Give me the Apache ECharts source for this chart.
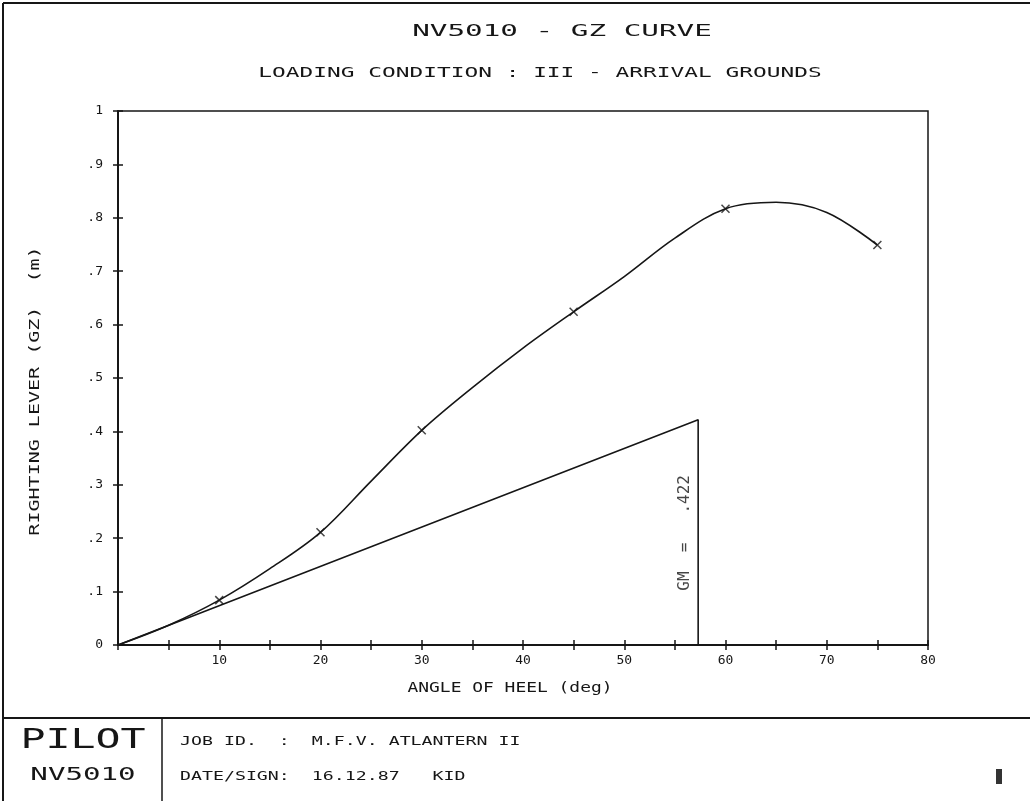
<!DOCTYPE html>
<html>
<head>
<meta charset="utf-8">
<title>NV5010 - GZ CURVE</title>
<script src="https://cdn.jsdelivr.net/npm/echarts@6/dist/echarts.min.js"></script>
<style>
  html, body { margin: 0; padding: 0; background: #fff; }
  #main { width: 1030px; height: 801px; }
</style>
</head>
<body>
<div id="main"></div>
<script>
// GZ curve (angle of heel in deg, righting lever in m)
const angles = [0, 5, 10, 15, 20, 25, 30, 35, 40, 45, 50, 55, 60, 65, 70, 75];
const gz = [0, 0.037, 0.084, 0.143, 0.211, 0.307, 0.402, 0.482, 0.556, 0.624, 0.69, 0.762, 0.817, 0.829, 0.81, 0.749];

// computed points marked with a cross
const markAngles = [10, 20, 30, 45, 60, 75];
const markGz = [0.084, 0.211, 0.402, 0.624, 0.817, 0.749];

// initial GM tangent : reaches GM at 1 rad (57.3 deg)
const gmAngle = 57.3;
const gmValue = 0.422;
const gmText = 'GM  =   .422';

// tick labels
const xTickLabels = ['10', '20', '30', '40', '50', '60', '70', '80'];
const yTickLabels = ['0', '.1', '.2', '.3', '.4', '.5', '.6', '.7', '.8', '.9', '1'];

const titleText = 'NV5010 - GZ CURVE';
const subTitleText = 'LOADING CONDITION : III - ARRIVAL GROUNDS';
const xName = 'ANGLE OF HEEL (deg)';
const yName = 'RIGHTING LEVER (GZ)  (m)';
const jobLine = 'JOB ID.  :  M.F.V. ATLANTERN II';
const dateLine = 'DATE/SIGN:  16.12.87   KID';

const ink = '#161616';
const mono = '"DejaVu Sans Mono", "Liberation Mono", monospace';

var chart = echarts.init(document.getElementById('main'));

// stretched plotter-style text
function txt(text, x, y, size, sx, extra) {
  return Object.assign({
    type: 'text',
    x: x,
    y: y,
    scaleX: sx,
    silent: true,
    style: {
      text: text,
      font: size + 'px ' + mono,
      fill: ink,
      textAlign: 'center',
      textVerticalAlign: 'middle'
    }
  }, extra || {});
}

const crossSymbol = 'path://M0,0L10,10M10,0L0,10';

var option = {
  backgroundColor: '#fff',
  animation: false,
  grid: {
    left: 118,
    right: 102,
    top: 111,
    bottom: 156,
    show: true,
    borderColor: ink,
    borderWidth: 1.5,
    backgroundColor: 'transparent'
  },
  xAxis: [
    {
      type: 'value',
      min: 0,
      max: 80,
      interval: 5,
      axisLine: { onZero: false, lineStyle: { color: ink, width: 2 } },
      axisTick: { show: true, length: 5, lineStyle: { color: ink, width: 1.5 } },
      axisLabel: {
        color: ink,
        fontFamily: mono,
        fontSize: 13,
        margin: 9,
        formatter: function (v) {
          if (v % 10 !== 0 || v === 0) return '';
          return xTickLabels[v / 10 - 1];
        }
      },
      splitLine: { show: false }
    },
    {
      // inner half of the crossing ticks
      type: 'value',
      position: 'bottom',
      min: 0,
      max: 80,
      interval: 5,
      axisLine: { show: false },
      axisTick: { show: true, inside: true, length: 5, lineStyle: { color: ink, width: 1.5 } },
      axisLabel: { show: false },
      splitLine: { show: false }
    }
  ],
  yAxis: [
    {
      type: 'value',
      min: 0,
      max: 1,
      interval: 0.1,
      axisLine: { show: true, onZero: false, lineStyle: { color: ink, width: 2 } },
      axisTick: { show: true, length: 5, lineStyle: { color: ink, width: 1.5 } },
      axisLabel: {
        color: ink,
        fontFamily: mono,
        fontSize: 13,
        margin: 15,
        formatter: function (v) {
          return yTickLabels[Math.round(v * 10)];
        }
      },
      splitLine: { show: false }
    },
    {
      type: 'value',
      position: 'left',
      min: 0,
      max: 1,
      interval: 0.1,
      axisLine: { show: false },
      axisTick: { show: true, inside: true, length: 5, lineStyle: { color: ink, width: 1.5 } },
      axisLabel: { show: false },
      splitLine: { show: false }
    }
  ],
  graphic: [
    txt(titleText, 562, 32, 16, 1.83),
    txt(subTitleText, 540, 73, 14, 1.63),
    txt(xName, 510, 688, 14, 1.28),
    txt(yName, 35, 391, 14, 1.43, { rotation: Math.PI / 2 }),
    // frame of the plot sheet and title block
    { type: 'line', silent: true, shape: { x1: 3, y1: 3, x2: 1030, y2: 3 }, style: { stroke: ink, lineWidth: 2 } },
    { type: 'line', silent: true, shape: { x1: 3, y1: 3, x2: 3, y2: 801 }, style: { stroke: ink, lineWidth: 2 } },
    { type: 'line', silent: true, shape: { x1: 3, y1: 718, x2: 1030, y2: 718 }, style: { stroke: ink, lineWidth: 2 } },
    { type: 'line', silent: true, shape: { x1: 162, y1: 718, x2: 162, y2: 801 }, style: { stroke: ink, lineWidth: 1.5 } },
    txt('PILOT', 83, 741, 26, 1.6),
    txt('NV5010', 83, 775, 18, 1.62),
    txt(jobLine, 180, 742, 12, 1.52, { style: { text: jobLine, font: '12px ' + mono, fill: ink, textAlign: 'left', textVerticalAlign: 'middle' } }),
    txt(dateLine, 180, 777, 12, 1.52, { style: { text: dateLine, font: '12px ' + mono, fill: ink, textAlign: 'left', textVerticalAlign: 'middle' } }),
    { type: 'rect', silent: true, shape: { x: 996, y: 769, width: 6, height: 15 }, style: { fill: '#333' } }
  ],
  series: [
    {
      name: 'GZ',
      type: 'line',
      smooth: 0.35,
      showSymbol: false,
      data: angles.map(function (a, i) { return [a, gz[i]]; }),
      lineStyle: { color: ink, width: 1.6 }
    },
    {
      name: 'points',
      type: 'scatter',
      symbol: crossSymbol,
      symbolSize: 8,
      data: markAngles.map(function (a, i) { return [a, markGz[i]]; }),
      itemStyle: { color: 'transparent', borderColor: ink, borderWidth: 1.5 }
    },
    {
      name: 'GM',
      type: 'line',
      showSymbol: false,
      data: [[0, 0], [gmAngle, gmValue], [gmAngle, 0]],
      lineStyle: { color: ink, width: 1.6 }
    },
    {
      name: 'GM label',
      type: 'scatter',
      symbolSize: 0,
      data: [[gmAngle, 0.21]],
      label: {
        show: true,
        position: 'left',
        distance: 5,
        rotate: 90,
        align: 'center',
        verticalAlign: 'bottom',
        color: ink,
        fontFamily: mono,
        fontSize: 16,
        formatter: gmText
      }
    }
  ]
};

chart.setOption(option);
</script>
</body>
</html>
